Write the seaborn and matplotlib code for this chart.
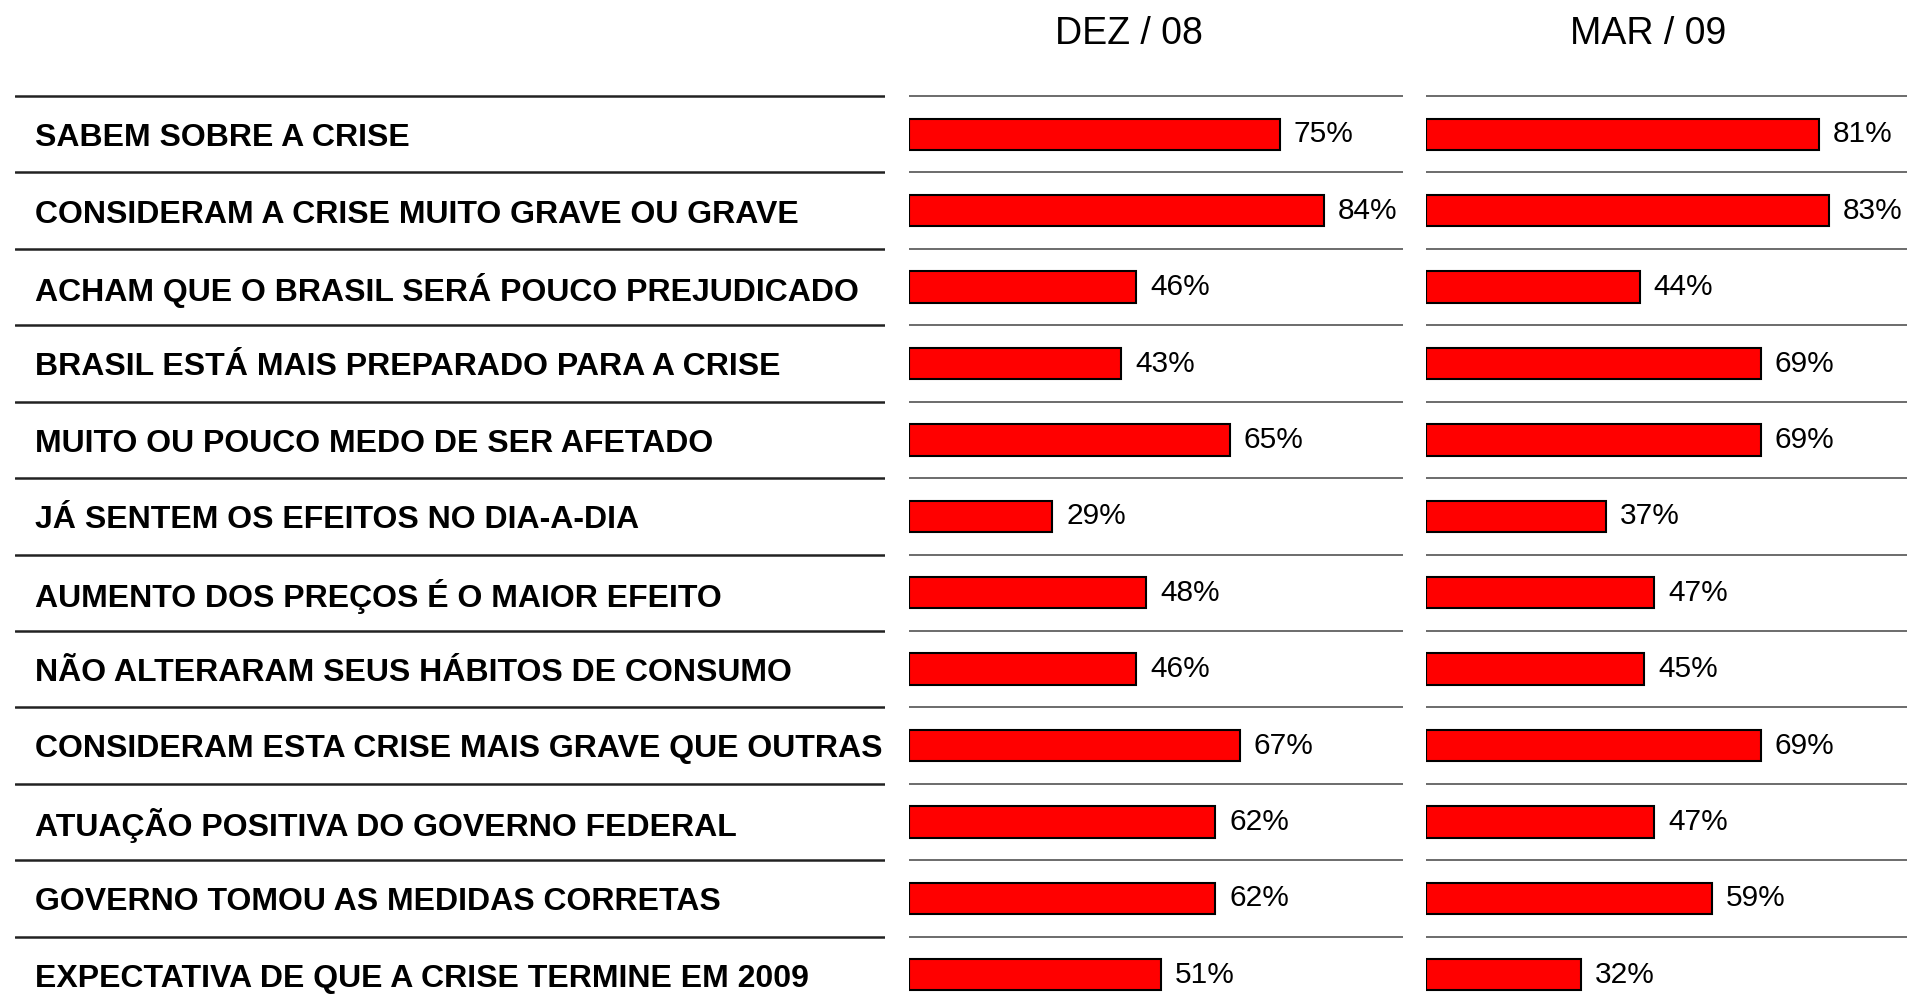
import numpy as np
import pandas as pd
import matplotlib
matplotlib.use('Agg')
import matplotlib.pyplot as plt
import seaborn as sns

## Data
questions = [
    'SABEM SOBRE A CRISE',
    'CONSIDERAM A CRISE MUITO GRAVE OU GRAVE',
    'ACHAM QUE O BRASIL SERÁ POUCO PREJUDICADO',
    'BRASIL ESTÁ MAIS PREPARADO PARA A CRISE',
    'MUITO OU POUCO MEDO DE SER AFETADO',
    'JÁ SENTEM OS EFEITOS NO DIA-A-DIA',
    'AUMENTO DOS PREÇOS É O MAIOR EFEITO',
    'NÃO ALTERARAM SEUS HÁBITOS DE CONSUMO',
    'CONSIDERAM ESTA CRISE MAIS GRAVE QUE OUTRAS',
    'ATUAÇÃO POSITIVA DO GOVERNO FEDERAL',
    'GOVERNO TOMOU AS MEDIDAS CORRETAS',
    'EXPECTATIVA DE QUE A CRISE TERMINE EM 2009',
]
dez08 = [75, 84, 46, 43, 65, 29, 48, 46, 67, 62, 62, 51]
mar09 = [81, 83, 44, 69, 69, 37, 47, 45, 69, 47, 59, 32]
periods = ['DEZ / 08', 'MAR / 09']

sns.set_style('white')
plt.rcParams['font.family'] = ['Liberation Sans', 'DejaVu Sans']

W, H = 1908, 1007
fig = plt.figure(figsize=(W / 100, H / 100), dpi=100, facecolor='white')

# row geometry (pixels): first separator at y=96, spacing 76.4
top_px, step_px = 96.1, 76.4
n = len(questions)
ytop = -0.5 - top_px / step_px
ybot = -0.5 + (H - top_px) / step_px


def make_ax(x0, x1):
    ax = fig.add_axes([x0 / W, 0, (x1 - x0) / W, 1])
    ax.set_ylim(ybot, ytop)
    ax.axis('off')
    return ax


## Question labels column
ax_lab = make_ax(14.6, 884.6)
ax_lab.set_xlim(0, 1)
for i in range(n):
    ax_lab.axhline(i - 0.5, color='#222222', lw=1.8)
    ax_lab.text(0.023, i + 0.05, questions[i], transform=ax_lab.get_yaxis_transform(),
                ha='left', va='center', fontsize=23, fontweight='bold', color='black')

## Bar panels
panels = [(909, 1403, 100, dez08, 0.445), (1426, W, 99.3, mar09, 0.46)]
for (x0, x1, xmax, vals, tx), title in zip(panels, periods):
    ax = fig.add_axes([x0 / W, 0, (x1 - x0) / W, 1])
    df = pd.DataFrame({'q': questions, 'v': vals})
    sns.barplot(data=df, x='v', y='q', orient='h', color='#ff0000', saturation=1,
                edgecolor='black', linewidth=1.5, width=0.41, ax=ax)
    ax.set_xlim(0, xmax)
    ax.set_ylim(ybot, ytop)
    for i in range(n):
        ax.axhline(i - 0.5, color='#444444', lw=1.1)
    ax.bar_label(ax.containers[0], labels=[f'{v}%' for v in vals], padding=10,
                 fontsize=21.5, color='black')
    ax.axis('off')
    ax.text(tx, 1 - 34 / H, title, transform=ax.transAxes, ha='center', va='center',
            fontsize=27, color='black')

plt.savefig('out.png', dpi=100, facecolor='white')
